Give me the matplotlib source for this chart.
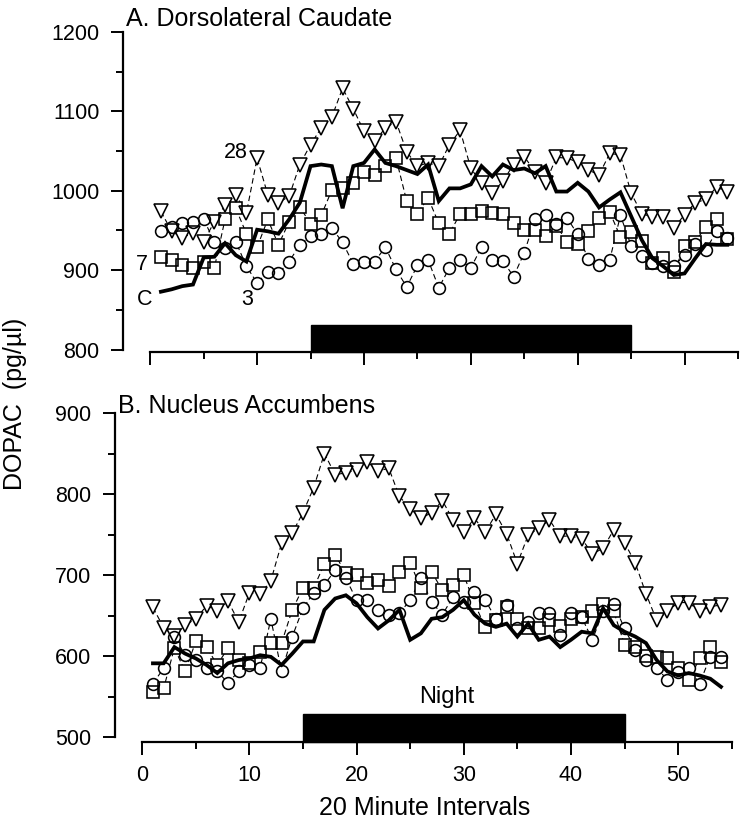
import numpy as np
import matplotlib
matplotlib.use("Agg")
import matplotlib.pyplot as plt
from matplotlib.ticker import MultipleLocator
import matplotlib.patches as patches

plt.rcParams['font.family'] = ['Liberation Sans', 'DejaVu Sans']

# ------------------------------
#   Data (20 minute intervals)
# ------------------------------
intervals = np.arange(1, 55)
night_start, night_end = 15, 45

# A. Dorsolateral Caudate
caud_C = [873, 876, 880, 882, 916, 917, 934, 919, 911, 951, 949, 946, 964, 985,
          1031, 1033, 1031, 978, 1031, 1035, 1052, 1035, 1031, 1026, 1021, 1033,
          987, 1003, 1003, 1008, 1031, 1018, 1033, 1026, 1028, 1022, 1031, 999,
          999, 1010, 999, 979, 989, 998, 968, 938, 915, 905, 894, 896, 915, 933,
          932, 932]
caud_3 = [949, 955, 959, 961, 964, 936, 928, 936, 905, 884, 898, 896, 911, 932,
          943, 945, 953, 935, 908, 911, 911, 929, 901, 879, 906, 913, 878, 903,
          913, 903, 929, 913, 912, 892, 922, 964, 970, 958, 966, 945, 914, 907,
          913, 969, 931, 918, 909, 905, 905, 919, 933, 926, 949, 940]
caud_7 = [917, 913, 906, 903, 911, 903, 964, 978, 946, 929, 964, 932, 961, 980,
          958, 969, 1001, 1003, 1010, 1024, 1020, 1031, 1041, 987, 971, 991, 959,
          946, 971, 971, 975, 972, 971, 959, 950, 951, 943, 956, 936, 933, 949,
          966, 973, 942, 948, 937, 909, 915, 898, 930, 936, 955, 964, 939]
caud_28 = [974, 949, 941, 947, 936, 961, 982, 995, 972, 1041, 995, 985, 993, 1033,
           1058, 1079, 1093, 1129, 1103, 1075, 1062, 1079, 1087, 1049, 1031, 1035,
           1031, 1058, 1076, 1028, 1010, 997, 1012, 1033, 1043, 1024, 1010, 1042,
           1041, 1036, 1026, 1020, 1047, 1045, 997, 971, 967, 967, 953, 970, 985,
           989, 1005, 998]

# B. Nucleus Accumbens
acc_C = [591, 591, 611, 603, 597, 589, 579, 591, 595, 597, 601, 599, 589, 603,
         618, 618, 657, 671, 675, 665, 648, 634, 644, 657, 620, 628, 646, 648,
         657, 669, 651, 640, 636, 640, 624, 640, 620, 624, 611, 620, 630, 628,
         659, 638, 630, 624, 616, 595, 581, 576, 579, 576, 572, 562]
acc_3 = [566, 585, 624, 601, 595, 585, 581, 567, 581, 589, 585, 646, 581, 624,
         659, 678, 688, 706, 696, 669, 669, 657, 651, 653, 669, 696, 667, 651,
         673, 667, 679, 669, 646, 663, 634, 642, 653, 653, 626, 653, 648, 620,
         655, 664, 634, 608, 595, 585, 571, 580, 585, 566, 599, 599]
acc_7 = [556, 560, 610, 581, 618, 611, 589, 610, 595, 591, 605, 616, 616, 657,
         684, 684, 714, 725, 702, 700, 690, 694, 686, 704, 715, 684, 704, 681,
         688, 700, 665, 636, 644, 661, 646, 634, 634, 645, 637, 646, 648, 655,
         664, 655, 614, 611, 600, 599, 597, 585, 570, 597, 611, 593]
acc_28 = [660, 635, 625, 638, 646, 662, 656, 668, 642, 678, 676, 693, 739, 752,
          777, 808, 850, 824, 826, 830, 840, 828, 832, 797, 782, 770, 777, 792,
          768, 753, 770, 753, 775, 751, 714, 749, 758, 768, 748, 748, 745, 726,
          733, 756, 740, 715, 677, 644, 655, 666, 666, 655, 661, 663]


def draw_panel(ax, C, s3, s7, s28, ylim, ybounds, bar_top):
    ax.set_xlim(-2.55, 55)
    ax.set_ylim(*ylim)
    series = [(s28, 'v', 9.5), (s7, 's', 8.5), (s3, 'o', 8.5)]
    # thin dashed connecting lines
    for vals, mk, ms in series:
        ax.plot(intervals, vals, ls=(0, (5, 3)), lw=0.8, color='black', zorder=1)
    # white bodies hide the dashes inside the symbols
    for vals, mk, ms in series:
        ax.plot(intervals, vals, ls='none', marker=mk, ms=ms, mfc='white',
                mec='white', mew=0, zorder=2)
    for vals, mk, ms in series:
        ax.plot(intervals, vals, ls='none', marker=mk, ms=ms, mfc='none',
                mec='black', mew=1.15, zorder=3)
    ax.plot(intervals, C, color='black', lw=2.7, zorder=4, solid_joinstyle='miter')

    # night bar
    ax.add_patch(patches.Rectangle((night_start, ylim[0]), night_end - night_start,
                                   bar_top - ylim[0], facecolor='black',
                                   edgecolor='black', clip_on=False, zorder=5))

    for side in ('top', 'right'):
        ax.spines[side].set_visible(False)
    ax.spines['left'].set_bounds(*ybounds)
    ax.spines['bottom'].set_bounds(0, 55)
    ax.spines['left'].set_linewidth(1.6)
    ax.spines['bottom'].set_linewidth(1.6)
    ax.xaxis.set_major_locator(MultipleLocator(10))
    ax.xaxis.set_minor_locator(MultipleLocator(5))
    ax.yaxis.set_major_locator(MultipleLocator(100))
    ax.yaxis.set_minor_locator(MultipleLocator(50))
    ax.tick_params(which='major', length=9, width=1.4, labelsize=15.5, pad=8)
    ax.tick_params(which='minor', length=5, width=1.4)
    ax.tick_params(axis='y', which='both', direction='out')
    ax.set_yticks(np.arange(ybounds[0], ybounds[1] + 1, 100))


fig = plt.figure(figsize=(7.49, 8.40), dpi=100)

# A. Dorsolateral Caudate
ax1 = fig.add_axes([0.1642, 0.5808, 0.8211, 0.3814])
draw_panel(ax1, caud_C, caud_3, caud_7, caud_28, (797, 1200), (800, 1200), 831)
ax1.tick_params(axis='x', labelbottom=False)
ax1.text(-2.3, 1207, 'A. Dorsolateral Caudate', fontsize=18, ha='left', va='baseline')
ax1.text(8.0, 1048, '28', fontsize=15.5, ha='center', va='center')
ax1.text(-0.8, 907, '7', fontsize=15.5, ha='center', va='center')
ax1.text(-0.5, 863, 'C', fontsize=15.5, ha='center', va='center')
ax1.text(9.1, 863, '3', fontsize=15.5, ha='center', va='center')

# B. Nucleus Accumbens
ax2 = fig.add_axes([0.1534, 0.1168, 0.8235, 0.3915])
draw_panel(ax2, acc_C, acc_3, acc_7, acc_28, (494, 900), (500, 900), 528)
ax2.text(-2.3, 900, 'B. Nucleus Accumbens', fontsize=18, ha='left', va='baseline')
ax2.text(28.4, 549, 'Night', fontsize=17, ha='center', va='center')

fig.text(15 / 749, 1 - 404 / 840, 'DOPAC  (pg/µl)', rotation=90, fontsize=18,
         ha='center', va='center')
fig.text(425 / 749, 1 - 808 / 840, '20 Minute Intervals', fontsize=18,
         ha='center', va='center')

fig.savefig('out.png', dpi=100)
